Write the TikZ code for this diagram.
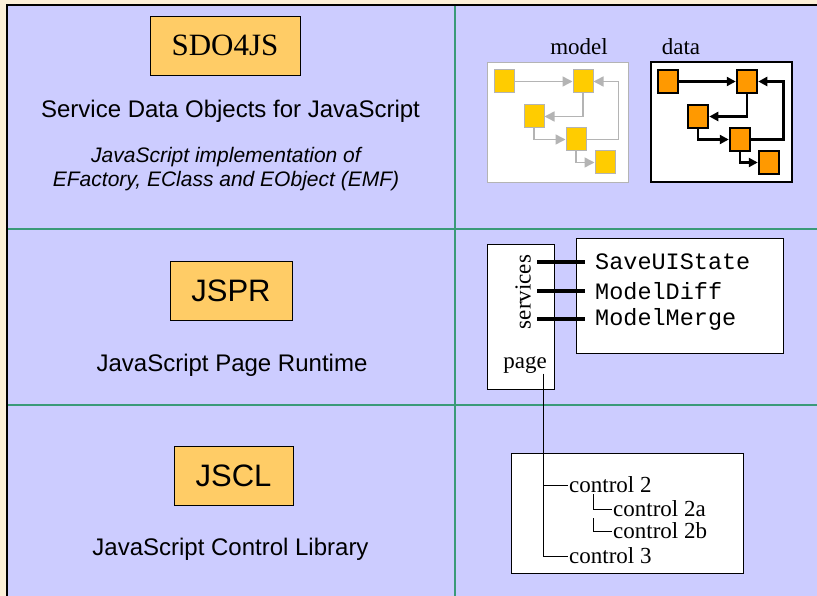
\documentclass[tikz,border=0pt]{standalone}
\usepackage{fontspec}
\setmainfont{Liberation Serif}
\setsansfont{Liberation Sans}
\setmonofont{Liberation Mono}
\usetikzlibrary{arrows.meta}
\definecolor{cream}{HTML}{FCF0D8}
\definecolor{lavender}{HTML}{CCCCFF}
\definecolor{gridgreen}{HTML}{3A9A78}
\definecolor{boxorange}{HTML}{FFCC66}
\definecolor{mdlyellow}{HTML}{FFCC00}
\definecolor{datorange}{HTML}{FF9900}
\definecolor{mdlgray}{HTML}{B4B4B4}

\begin{document}
\begin{tikzpicture}[x=1pt,y=-1pt]
    \tikzset{
        title/.style = {draw=black, fill=boxorange, minimum height=59pt, inner sep=0pt},
        caption/.style = {font=\sffamily\fontsize{24}{28}\selectfont},
        frame/.style = {draw=black, fill=white, line width=1pt, inner sep=0pt},
        lbl/.style = {font=\rmfamily\fontsize{23}{26}\selectfont, inner sep=1pt},
        svc/.style = {font=\ttfamily\fontsize{23.5}{26}\selectfont, anchor=west, inner sep=1pt},
        mdlsq/.style = {draw=mdlgray, fill=mdlyellow, line width=1pt, minimum width=20pt, minimum height=23pt, inner sep=0pt},
        datsq/.style = {draw=black, fill=datorange, line width=2.5pt, minimum width=20pt, minimum height=23pt, inner sep=0pt},
        mdledge/.style = {draw=mdlgray, line width=1.5pt, -{Triangle[length=10pt,width=10pt]}},
        datedge/.style = {draw=black, line width=2.5pt, -{Triangle[length=9pt,width=9pt]}},
        bar/.style = {line width=4pt}
    }
    \useasboundingbox (0,0) rectangle (817,596);
    \fill[cream] (0,0) rectangle (817,596);
    \fill[lavender] (7,5) rectangle (817,596);
    \draw[gridgreen, line width=1.5pt] (455,5) -- (455,596);
    \draw[gridgreen, line width=1.5pt] (7,229) -- (817,229);
    \draw[gridgreen, line width=1.5pt] (7,405) -- (817,405);
    \draw[line width=2pt] (7,596) -- (7,5) -- (817,5);

    \node[title, minimum width=150pt, font=\rmfamily\fontsize{31}{31}\selectfont] (sdo) at (225,45.5) {SDO4JS};
    \node[caption] (sdoname) at (230.5,111) {Service Data Objects for JavaScript};
    \node[align=center, font=\sffamily\itshape\fontsize{21}{24}\selectfont] (sdoimpl) at (226,169)
        {JavaScript implementation of\\EFactory, EClass and EObject (EMF)};
    \node[title, minimum width=122pt, font=\sffamily\fontsize{31}{31}\selectfont] (jspr) at (231,290.5) {JSPR};
    \node[caption] (jsprname) at (232,365) {JavaScript Page Runtime};
    \node[title, minimum width=119pt, font=\sffamily\fontsize{31}{31}\selectfont] (jscl) at (233.5,475.5) {JSCL};
    \node[caption] (jsclname) at (230.5,549) {JavaScript Control Library};

    \node[lbl] (model) at (579,47) {model};
    \node[lbl] (data) at (681,47) {data};
    \node[draw=mdlgray, fill=white, minimum width=141pt, minimum height=120pt] (mdlbox) at (557.5,122) {};
    \node[frame, line width=1.5pt, minimum width=141pt, minimum height=120pt] (datbox) at (721.5,122) {};

    \node[mdlsq] (mA) at (504,81.5) {};
    \node[mdlsq] (mB) at (583,81.5) {};
    \node[mdlsq] (mC) at (534,116.5) {};
    \node[mdlsq] (mD) at (576,139.5) {};
    \node[mdlsq] (mE) at (605,162.5) {};
    \draw[mdledge] (mA) -- (mB);
    \draw[mdledge] (mB.south) |- (mC.east);
    \draw[mdledge] (mC.south) |- (mD.west);
    \draw[mdledge] (mD.south) |- (mE.west);
    \draw[mdledge] (mD.east) -- ++(32,0) |- (mB.east);

    \node[datsq] (dA) at (668,81.5) {};
    \node[datsq] (dB) at (747,81.5) {};
    \node[datsq] (dC) at (698,116.5) {};
    \node[datsq] (dD) at (740,139.5) {};
    \node[datsq] (dE) at (769,162.5) {};
    \draw[datedge] (dA) -- (dB);
    \draw[datedge] (dB.south) |- (dC.east);
    \draw[datedge] (dC.south) |- (dD.west);
    \draw[datedge] (dD.south) |- (dE.west);
    \draw[datedge] (dD.east) -- ++(32,0) |- (dB.east);

    \node[frame, minimum width=67pt, minimum height=144pt] (pagebox) at (520.5,317) {};
    \node[frame, minimum width=207pt, minimum height=114pt] (svcbox) at (679.5,296) {};
    \node[lbl, rotate=90] (services) at (523,292) {services};
    \node[lbl, inner sep=0pt] (page) at (525,365) {page};
    \node[svc] (save) at (594,262) {SaveUIState};
    \node[svc] (diff) at (594,291) {ModelDiff};
    \node[svc] (merge) at (594,319) {ModelMerge};
    \coordinate (barl) at (537,0);
    \coordinate (barr) at (585,0);
    \draw[bar] (save.west -| barl) -- (save.west -| barr);
    \draw[bar] (diff.west -| barl) -- (diff.west -| barr);
    \draw[bar] (merge.west -| barl) -- (merge.west -| barr);

    \node[frame, minimum width=232pt, minimum height=120pt] (treebox) at (627,513) {};
    \node[lbl, anchor=west] (ctl2) at (568,485) {control 2};
    \node[lbl, anchor=west] (ctl2a) at (612,509) {control 2a};
    \node[lbl, anchor=west] (ctl2b) at (612,531) {control 2b};
    \node[lbl, anchor=west] (ctl3) at (568,556) {control 3};
    \coordinate (trunk) at (543,0);
    \coordinate (stem) at (593,0);
    \draw (page.south -| trunk) |- (ctl3.west);
    \draw (ctl2.west -| trunk) -- (ctl2.west);
    \draw (ctl2.south -| stem) |- (ctl2a.west);
    \draw (ctl2a.south -| stem) |- (ctl2b.west);
\end{tikzpicture}
\end{document}
